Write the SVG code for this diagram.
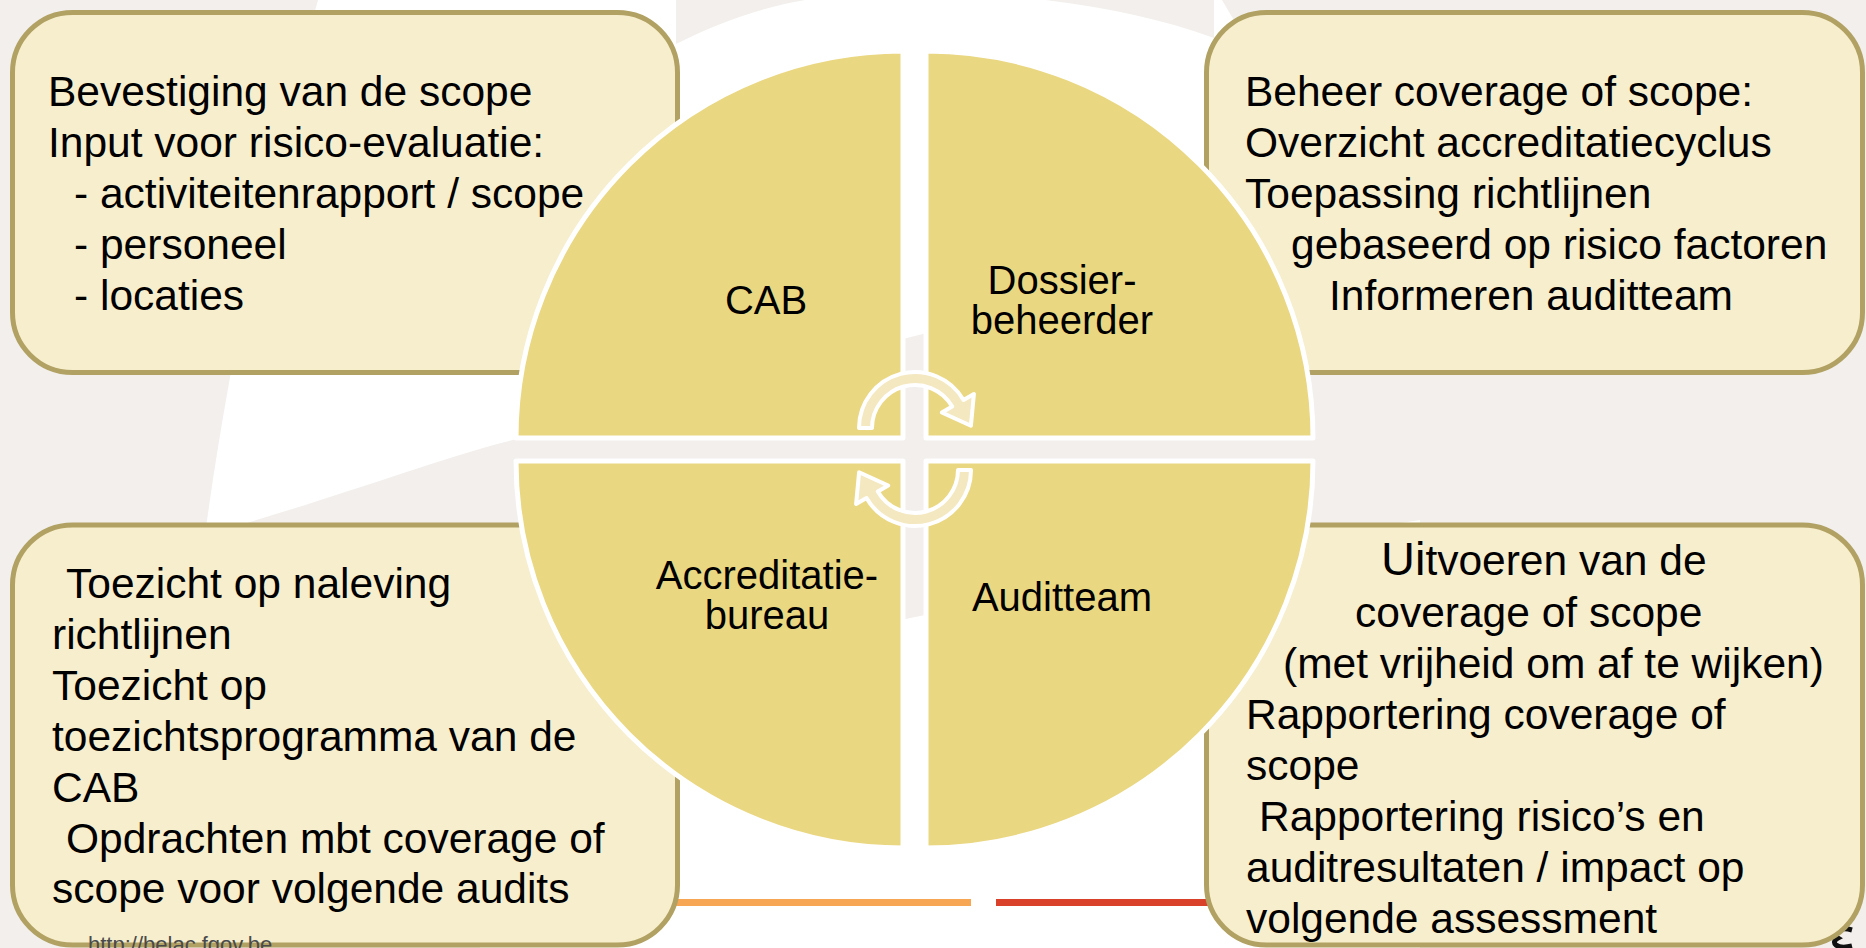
<svg xmlns="http://www.w3.org/2000/svg" width="1866" height="948" viewBox="0 0 1866 948">
  <style>
    .box { fill: #f7eecd; stroke: #b1a162; stroke-width: 5; }
    .quad { fill: #ead782; stroke: #ffffff; stroke-width: 5; stroke-linejoin: round; }
    .cycle { fill: #f4e8c0; stroke: #ffffff; stroke-width: 4; stroke-linejoin: round; }
    .txt { font-family: "Liberation Sans", Arial, sans-serif; font-size: 42.5px; fill: #000000; }
    .lbl { font-family: "Liberation Sans", Arial, sans-serif; font-size: 40px; fill: #000000; text-anchor: middle; }
    .url { font-family: "Liberation Sans", Arial, sans-serif; font-size: 22px; fill: #4a4a4a; }
  </style>

  <!-- background -->
  <g id="background">
    <rect x="0" y="0" width="1866" height="948" fill="#f2efec"/>
    <path d="M 205 535 C 330 500 420 465 505 442 C 640 405 780 370 915 336 C 1060 300 1200 250 1340 200 L 1222 0 L 318 0 C 270 170 230 350 205 535 Z" fill="#ffffff"/>
    <path d="M 676 44 C 715 24 758 8 805 0 L 676 0 Z" fill="#f2efec"/>
    <path d="M 1046 0 C 1110 8 1165 20 1214 38 L 1214 0 Z" fill="#f2efec"/>
    <path d="M 480 948 L 480 760 C 650 690 800 640 915 617 C 1100 580 1250 545 1420 520 L 1420 948 Z" fill="#ffffff"/>
    <rect x="600" y="899" width="371" height="7" fill="#f7a654"/>
    <rect x="996" y="899" width="260" height="7" fill="#d9412b"/>
    <path d="M 1852 930 C 1838 926 1832 934 1838 938 C 1830 942 1836 950 1852 946" fill="none" stroke="#111111" stroke-width="5"/>
  </g>

  <!-- side boxes -->
  <g id="box-cab">
    <rect class="box" x="12.5" y="12.5" width="665" height="360" rx="60" ry="60"/>
  </g>
  <g id="box-dossierbeheerder">
    <rect class="box" x="1206.5" y="12.5" width="656" height="360" rx="60" ry="60"/>
  </g>
  <g id="box-accreditatiebureau">
    <rect class="box" x="12.5" y="525" width="665" height="420" rx="60" ry="60"/>
  </g>
  <g id="box-auditteam">
    <rect class="box" x="1206.5" y="525" width="656" height="420" rx="60" ry="60"/>
  </g>

  <!-- central matrix quadrants -->
  <g id="quad-cab">
    <path class="quad" d="M 903 438 L 516 438 A 387 387 0 0 1 903 51 Z"/>
    <text class="lbl" x="766" y="314">CAB</text>
  </g>
  <g id="quad-dossierbeheerder">
    <path class="quad" d="M 926 438 L 926 51 A 387 387 0 0 1 1313 438 Z"/>
    <text class="lbl" x="1062" y="294">Dossier-</text>
    <text class="lbl" x="1062" y="334">beheerder</text>
  </g>
  <g id="quad-auditteam">
    <path class="quad" d="M 926 461 L 1313 461 A 387 387 0 0 1 926 848 Z"/>
    <text class="lbl" x="1062" y="611">Auditteam</text>
  </g>
  <g id="quad-accreditatiebureau">
    <path class="quad" d="M 903 461 L 903 848 A 387 387 0 0 1 516 461 Z"/>
    <text class="lbl" x="767" y="589">Accreditatie-</text>
    <text class="lbl" x="767" y="629">bureau</text>
  </g>

  <!-- cycle arrows between the quadrants -->
  <g id="connectors">
    <path class="cycle" d="M 872 428 L 859 428 A 56 56 0 0 1 963.5 400 L 973.9 394 L 970.9 425.8 L 941.8 412.5 L 952.2 406.5 A 43 43 0 0 0 872 428 Z"/>
    <path class="cycle" d="M 958 470 L 971 470 A 56 56 0 0 1 866.5 498 L 856.1 504 L 859.1 472.2 L 888.2 485.5 L 877.8 491.5 A 43 43 0 0 0 958 470 Z"/>
  </g>

  <!-- box texts -->
  <g id="text-cab" class="txt">
    <text x="48" y="106">Bevestiging van de scope</text>
    <text x="48" y="157">Input voor risico-evaluatie:</text>
    <text x="74" y="208">- activiteitenrapport / scope</text>
    <text x="74" y="259">- personeel</text>
    <text x="74" y="310">- locaties</text>
  </g>
  <g id="text-dossierbeheerder" class="txt">
    <text x="1245" y="106">Beheer coverage of scope:</text>
    <text x="1245" y="157">Overzicht accreditatiecyclus</text>
    <text x="1245" y="208">Toepassing richtlijnen</text>
    <text x="1291" y="259">gebaseerd op risico factoren</text>
    <text x="1329" y="310">Informeren auditteam</text>
  </g>
  <g id="text-accreditatiebureau" class="txt">
    <text x="66" y="598">Toezicht op naleving</text>
    <text x="52" y="649">richtlijnen</text>
    <text x="52" y="700">Toezicht op</text>
    <text x="52" y="751">toezichtsprogramma van de</text>
    <text x="52" y="802">CAB</text>
    <text x="66" y="853">Opdrachten mbt coverage of</text>
    <text x="52" y="903">scope voor volgende audits</text>
  </g>
  <g id="text-auditteam" class="txt">
    <text x="1381" y="575"><tspan font-size="47px">Ui</tspan>tvoeren van de</text>
    <text x="1355" y="627">coverage of scope</text>
    <text x="1283" y="678">(met vrijheid om af te wijken)</text>
    <text x="1246" y="729">Rapportering coverage of</text>
    <text x="1246" y="780">scope</text>
    <text x="1259" y="831">Rapportering risico’s en</text>
    <text x="1246" y="882">auditresultaten / impact op</text>
    <text x="1246" y="933">volgende assessment</text>
  </g>

  <text class="url" x="88" y="952">http://belac.fgov.be</text>
</svg>
